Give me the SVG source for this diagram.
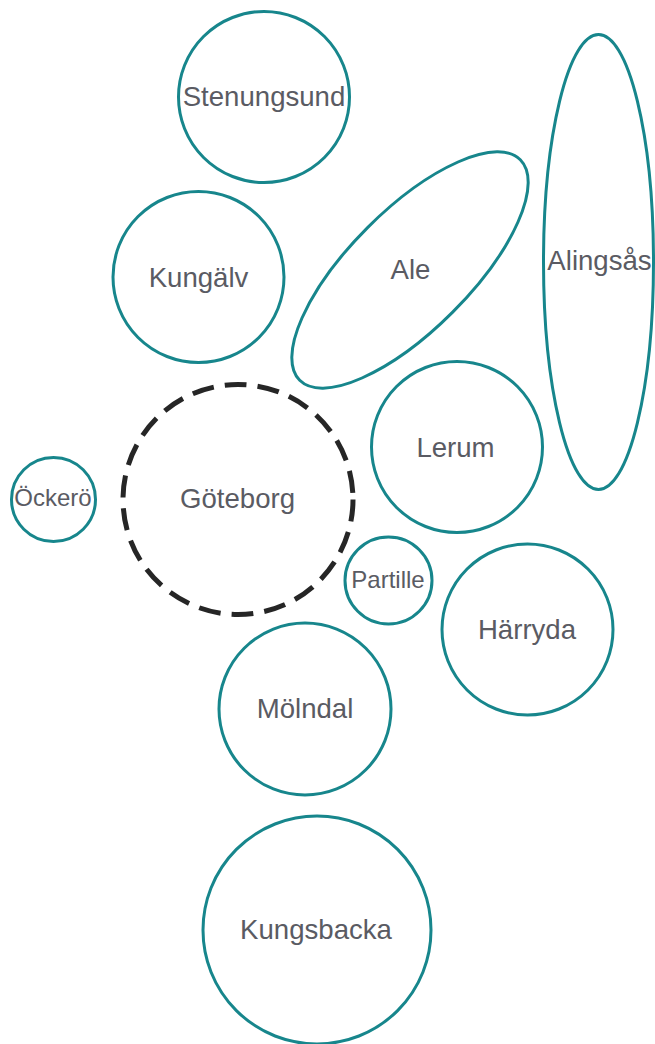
<svg xmlns="http://www.w3.org/2000/svg" width="655" height="1044" viewBox="0 0 655 1044">
<style>
.n{fill:#ffffff;stroke:#17868c;stroke-width:3}
.g{fill:#ffffff;stroke:#262626;stroke-width:5;stroke-dasharray:22 11}
.t{font-family:"Liberation Sans",Arial,sans-serif;font-size:27.6px;fill:#5a5b63;text-anchor:middle}
.s{font-size:24px}
</style>
<rect width="655" height="1044" fill="#ffffff"/>
<g id="connectors"/>
<g id="stenungsund"><circle class="n" cx="264" cy="97" r="85.5"/><text class="t" x="264" y="106">Stenungsund</text></g>
<g id="kungalv"><circle class="n" cx="198.5" cy="277" r="85.5"/><text class="t" x="198.5" y="287">Kungälv</text></g>
<g id="ale"><ellipse class="n" cx="410" cy="270" rx="156" ry="60" transform="rotate(-45 410 270)"/><text class="t" x="410.5" y="279">Ale</text></g>
<g id="alingsas"><ellipse class="n" cx="598.5" cy="262" rx="55" ry="227.5"/><text class="t" x="599.5" y="270">Alingsås</text></g>
<g id="lerum"><circle class="n" cx="457" cy="447" r="85.5"/><text class="t" x="455.5" y="457">Lerum</text></g>
<g id="goteborg"><circle class="g" cx="238" cy="499.5" r="115"/><text class="t" x="237.5" y="508">Göteborg</text></g>
<g id="ockero"><circle class="n" cx="53.5" cy="499.5" r="42"/><text class="t s" x="53" y="506">Öckerö</text></g>
<g id="partille"><circle class="n" cx="388.5" cy="580.5" r="43.5"/><text class="t s" x="388" y="588">Partille</text></g>
<g id="harryda"><circle class="n" cx="527.5" cy="629.5" r="85.5"/><text class="t" x="527" y="639">Härryda</text></g>
<g id="molndal"><circle class="n" cx="305" cy="709" r="86"/><text class="t" x="305" y="718">Mölndal</text></g>
<g id="kungsbacka"><circle class="n" cx="317" cy="930" r="114"/><text class="t" x="316" y="939">Kungsbacka</text></g>
</svg>
